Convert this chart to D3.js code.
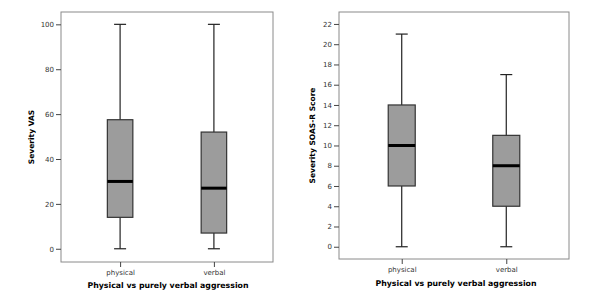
<!DOCTYPE html>
<html>
<head>
<meta charset="utf-8">
<script src="https://cdn.jsdelivr.net/npm/d3@7"></script>
<style>
  body { margin: 0; background: #fff; }
  svg { display: block; }
  text { font-family: "DejaVu Sans", Verdana, sans-serif; fill: #333; }
  .title { font-weight: bold; fill: #000; }
</style>
</head>
<body>
<svg id="chart" width="600" height="304"></svg>
<script>
// categories on the x axis of both panels
const groups = ["physical", "verbal"];

// five-number summaries: [min, q1, median, q3, max]
const vasStats = [
  [0, 14, 30, 57.5, 100],
  [0, 7, 27, 52, 100]
];
const soasStats = [
  [0, 6, 10, 14, 21],
  [0, 4, 8, 11, 17]
];

const vasTicks = [0, 20, 40, 60, 80, 100];
const soasTicks = [0, 2, 4, 6, 8, 10, 12, 14, 16, 18, 20, 22];

const svg = d3.select("#chart");

// draws one boxplot panel inside a framed plot area
function drawPanel(p) {
  const g = svg.append("g");

  const y = d3.scaleLinear().domain(p.yDomain).range([p.bottom, p.top]);
  const x = d3.scalePoint().domain(groups).range([p.left, p.right]).padding(p.pad);

  // frame
  g.append("rect")
    .attr("x", p.left).attr("y", p.top)
    .attr("width", p.right - p.left).attr("height", p.bottom - p.top)
    .attr("fill", "none").attr("stroke", "#8a8a8a").attr("stroke-width", 1);

  // y axis
  const ya = g.append("g")
    .attr("transform", "translate(" + p.left + ",0)")
    .call(d3.axisLeft(y).tickValues(p.ticks).tickSize(5).tickPadding(2).tickFormat(d3.format("d")));
  ya.select(".domain").remove();
  ya.selectAll("line").attr("stroke", "#444");
  ya.selectAll("text").style("font-size", "7px").attr("fill", "#333");

  // x axis
  const xa = g.append("g")
    .attr("transform", "translate(0," + p.bottom + ")")
    .call(d3.axisBottom(x).tickSize(5).tickPadding(3));
  xa.select(".domain").remove();
  xa.selectAll("line").attr("stroke", "#444");
  xa.selectAll("text").style("font-size", "7px").attr("fill", "#333");

  const boxes = g.selectAll(".box")
    .data(p.stats)
    .join("g")
    .attr("class", "box")
    .attr("transform", (d, i) => "translate(" + x(groups[i]) + ",0)");

  // whiskers
  boxes.append("line")
    .attr("x1", 0).attr("x2", 0)
    .attr("y1", d => y(d[0])).attr("y2", d => y(d[4]))
    .attr("stroke", "#222").attr("stroke-width", 1.2);
  boxes.selectAll(".cap")
    .data(d => [d[0], d[4]])
    .join("line")
    .attr("class", "cap")
    .attr("x1", -p.capW / 2).attr("x2", p.capW / 2)
    .attr("y1", d => y(d)).attr("y2", d => y(d))
    .attr("stroke", "#222").attr("stroke-width", 1.2);

  // box
  boxes.append("rect")
    .attr("x", -p.boxW / 2).attr("width", p.boxW)
    .attr("y", d => y(d[3])).attr("height", d => y(d[1]) - y(d[3]))
    .attr("fill", "#9c9c9c").attr("stroke", "#333").attr("stroke-width", 1.2);

  // median
  boxes.append("line")
    .attr("x1", -p.boxW / 2).attr("x2", p.boxW / 2)
    .attr("y1", d => y(d[2])).attr("y2", d => y(d[2]))
    .attr("stroke", "#000").attr("stroke-width", 3);

  // titles
  g.append("text")
    .attr("class", "title")
    .attr("transform", "translate(" + p.yTitleX + "," + ((p.top + p.bottom) / 2) + ") rotate(-90)")
    .attr("text-anchor", "middle")
    .style("font-size", "7.5px")
    .text(p.yTitle);

  g.append("text")
    .attr("class", "title")
    .attr("x", p.xTitleX).attr("y", p.xTitleY)
    .attr("text-anchor", "middle")
    .style("font-size", "7.8px")
    .text("Physical vs purely verbal aggression");
}

drawPanel({
  stats: vasStats, ticks: vasTicks, yDomain: [-5.9, 105.5],
  left: 61, right: 273, top: 12, bottom: 262, pad: 0.63,
  boxW: 25.5, capW: 12,
  yTitle: "Severity VAS", yTitleX: 34,
  xTitleX: 168, xTitleY: 288
});

drawPanel({
  stats: soasStats, ticks: soasTicks, yDomain: [-1.21, 23.18],
  left: 339, right: 569, top: 12, bottom: 259, pad: 0.6,
  boxW: 27, capW: 12,
  yTitle: "Severity SOAS-R Score", yTitleX: 315,
  xTitleX: 456, xTitleY: 286
});
</script>
</body>
</html>
